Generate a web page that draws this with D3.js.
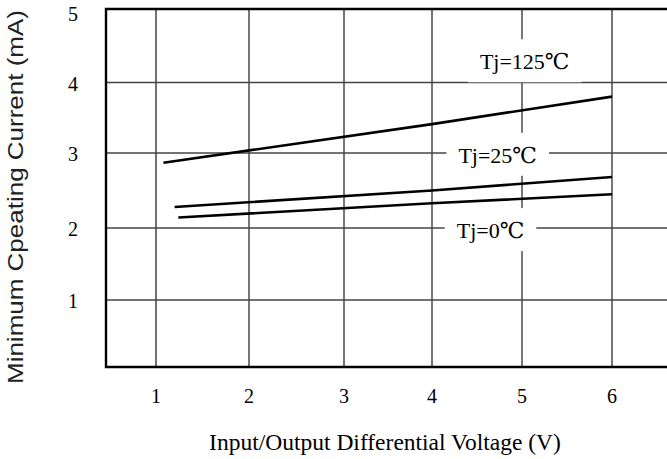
<!DOCTYPE html>
<html>
<head>
<meta charset="utf-8">
<script src="https://cdn.jsdelivr.net/npm/d3@7"></script>
<style>
  body { margin: 0; background: #fff; }
  svg { display: block; }
  .serif { font-family: "Liberation Serif", "Times New Roman", "DejaVu Serif", serif; fill: #000; }
</style>
</head>
<body>
<div id="chart"></div>
<script>
// Tick values
const voltTicks = [1, 2, 3, 4, 5, 6];
const currTicks = [1, 2, 3, 4, 5];

// Curves (V, mA)
const seriesNames = ["Tj=125℃", "Tj=25℃", "Tj=0℃"];
const volt125 = [1.08, 4, 6];
const curr125 = [2.87, 3.41, 3.80];
const volt25 = [1.20, 4, 6];
const curr25 = [2.28, 2.50, 2.68];
const volt0 = [1.24, 4, 6];
const curr0 = [2.14, 2.33, 2.45];

const xTitle = "Input/Output Differential Voltage (V)";
const yTitle = "Minimum Cpeating Current (mA)";

const width = 667,
  height = 459;
const plotLeft = 106,
  plotTop = 9,
  plotBottom = 367;

// the scanned grid is not evenly spaced, so map each grid value to its line
const x = d3
  .scaleLinear()
  .domain([1, 2, 3, 4, 5, 6])
  .range([156, 249, 344, 432, 522, 612]);
const y = d3
  .scaleLinear()
  .domain([0, 1, 2, 3, 4, 5])
  .range([plotBottom, 300, 228, 153, 82.5, plotTop]);

const svg = d3
  .select("#chart")
  .append("svg")
  .attr("width", width)
  .attr("height", height);

// Grid
svg
  .append("g")
  .selectAll("line")
  .data(voltTicks)
  .enter()
  .append("line")
  .attr("x1", (d) => x(d))
  .attr("x2", (d) => x(d))
  .attr("y1", plotTop)
  .attr("y2", plotBottom)
  .attr("stroke", (d) => (d === 1 ? "#111" : "#555"))
  .attr("stroke-width", (d) => (d === 1 ? 1.2 : 1.6));

svg
  .append("g")
  .selectAll("line")
  .data(currTicks.filter((d) => d < 5))
  .enter()
  .append("line")
  .attr("x1", plotLeft)
  .attr("x2", width)
  .attr("y1", (d) => y(d))
  .attr("y2", (d) => y(d))
  .attr("stroke", "#444")
  .attr("stroke-width", 1.6);

// Frame: top, left, bottom
svg
  .append("path")
  .attr("d", `M${width},${plotTop}H${plotLeft}V${plotBottom}H${width}`)
  .attr("fill", "none")
  .attr("stroke", "#000")
  .attr("stroke-width", 2.4);

// Tick labels
svg
  .append("g")
  .selectAll("text")
  .data(voltTicks)
  .enter()
  .append("text")
  .attr("class", "serif")
  .attr("x", (d) => x(d))
  .attr("y", 403)
  .attr("text-anchor", "middle")
  .style("font-size", "20px")
  .text((d) => d);

svg
  .append("g")
  .selectAll("text")
  .data(currTicks)
  .enter()
  .append("text")
  .attr("class", "serif")
  .attr("x", 73)
  .attr("y", (d) => Math.max(y(d) + 8, 21))
  .attr("text-anchor", "middle")
  .style("font-size", "20px")
  .text((d) => d);

// Curves
const line = d3
  .line()
  .x((d) => x(d[0]))
  .y((d) => y(d[1]));

const series = [
  d3.zip(volt125, curr125),
  d3.zip(volt25, curr25),
  d3.zip(volt0, curr0),
];

svg
  .append("g")
  .selectAll("path")
  .data(series)
  .enter()
  .append("path")
  .attr("d", line)
  .attr("fill", "none")
  .attr("stroke", "#000")
  .attr("stroke-width", 2.6);

// Curve labels sit on white boxes that break the grid
const labelAt = [
  [5.03, 4.18],
  [4.73, 2.87],
  [4.65, 1.86],
];
const labels = svg
  .append("g")
  .selectAll("g")
  .data(seriesNames)
  .enter()
  .append("g");
labels
  .append("text")
  .attr("class", "serif")
  .attr("x", (d, i) => x(labelAt[i][0]))
  .attr("y", (d, i) => y(labelAt[i][1]))
  .attr("text-anchor", "middle")
  .style("font-size", "22px")
  .text((d) => d);
labels.each(function () {
  const t = d3.select(this).select("text");
  const bb = t.node().getBBox();
  d3.select(this)
    .insert("rect", "text")
    .attr("x", bb.x - 12)
    .attr("y", bb.y - 10)
    .attr("width", bb.width + 24)
    .attr("height", bb.height + 18)
    .attr("fill", "#fff");
});

// Axis titles
svg
  .append("text")
  .attr("class", "serif")
  .attr("x", 385)
  .attr("y", 450)
  .attr("text-anchor", "middle")
  .style("font-size", "23.5px")
  .text(xTitle);

// y title: the scan uses a wide, light sans face
svg
  .append("text")
  .attr("transform", "translate(23,197) rotate(-90)")
  .attr("text-anchor", "middle")
  .attr("textLength", 374)
  .attr("lengthAdjust", "spacingAndGlyphs")
  .style("font-family", '"Liberation Sans", Arial, sans-serif')
  .style("font-size", "22px")
  .style("fill", "#222")
  .text(yTitle);
</script>
</body>
</html>
